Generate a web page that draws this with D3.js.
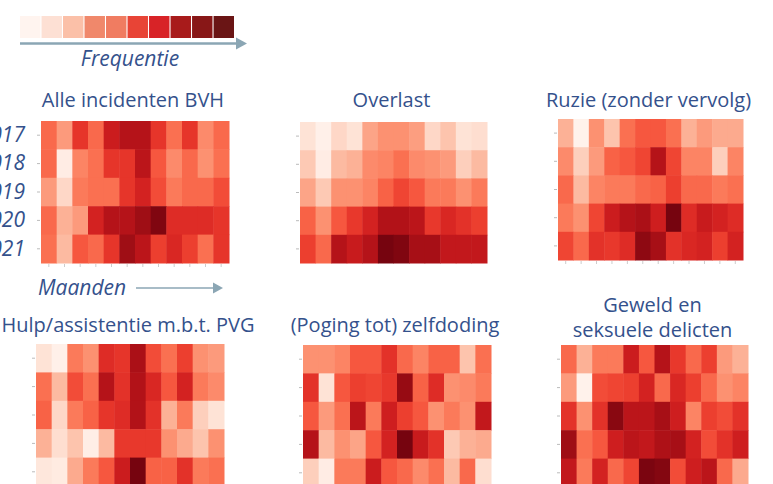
<!DOCTYPE html>
<html>
<head>
<meta charset="utf-8">
<script src="https://cdn.jsdelivr.net/npm/d3@7"></script>
<style>
  body { margin: 0; background: #fff; }
  svg { display: block; }
  text { font-family: "Open Sans", Lato, sans-serif; fill: #34518c; }
</style>
</head>
<body>
<svg id="chart" width="773" height="484"></svg>
<script>
// relative frequentie per maand (0-100), rijen = jaren
var years = ["2017", "2018", "2019", "2020", "2021"];
var months = [1, 2, 3, 4, 5, 6, 7, 8, 9, 10, 11, 12];
var legendColors = ["#fff4ef", "#fde0d4", "#fbc0a8", "#f0886b", "#f07c61",
                    "#e84436", "#d82327", "#a81b1b", "#881717", "#6a1515"];

var bvh = [
  [50, 35, 65, 50, 75, 82, 82, 65, 48, 65, 40, 50],
  [50,  5, 42, 48, 65, 65, 80, 55, 40, 50, 38, 48],
  [35, 15, 45, 48, 48, 65, 72, 58, 45, 50, 50, 58],
  [50, 28, 35, 72, 82, 82, 88, 95, 68, 68, 68, 65],
  [48, 25, 55, 50, 65, 88, 80, 62, 70, 62, 48, 65]
];
var overlast = [
  [10,  3, 15, 10, 32, 38, 38, 34, 15, 22, 10, 12],
  [20,  5, 25, 28, 40, 42, 48, 40, 38, 35, 18, 25],
  [32, 20, 38, 38, 42, 52, 60, 55, 45, 45, 38, 45],
  [52, 38, 55, 64, 72, 83, 83, 80, 64, 70, 66, 62],
  [62, 50, 82, 76, 82, 97, 95, 86, 86, 78, 78, 78]
];
var ruzie = [
  [28,  2, 38, 22, 48, 55, 55, 48, 28, 35, 30, 30],
  [40, 18, 35, 52, 55, 60, 82, 60, 42, 42, 18, 42],
  [50, 25, 42, 45, 45, 50, 52, 62, 50, 50, 45, 48],
  [45, 38, 60, 75, 82, 85, 74, 97, 68, 76, 72, 68],
  [60, 50, 66, 64, 68, 92, 86, 66, 70, 72, 62, 72]
];
var hulp = [
  [10,  3, 45, 38, 68, 65, 85, 58, 48, 62, 38, 35],
  [48, 25, 58, 48, 82, 66, 83, 70, 55, 72, 45, 40],
  [52, 15, 45, 52, 65, 68, 83, 66, 28, 45, 18, 10],
  [28, 12, 22,  4, 25, 64, 64, 64, 38, 30, 22, 38],
  [ 8,  6, 30, 45, 55, 75, 97, 52, 52, 66, 45, 48]
];
var poging = [
  [38, 38, 42, 55, 55, 66, 50, 42, 52, 52, 22, 48],
  [66, 10, 55, 62, 60, 64, 90, 52, 68, 38, 40, 45],
  [55, 35, 48, 80, 45, 74, 62, 55, 38, 45, 38, 78],
  [82, 25, 38, 32, 55, 72, 97, 76, 66, 20, 28, 30],
  [18,  5, 45, 45, 75, 55, 50, 40, 48, 25, 50, 12]
];
var geweld = [
  [50, 28, 45, 45, 75, 55, 82, 64, 50, 62, 35, 28],
  [35,  2, 58, 60, 62, 72, 50, 70, 62, 50, 38, 42],
  [66, 38, 66, 93, 80, 80, 86, 74, 42, 62, 58, 66],
  [88, 48, 55, 74, 80, 78, 84, 86, 72, 58, 66, 74],
  [78, 45, 72, 50, 60, 96, 94, 58, 74, 80, 50, 30]
];

var svg = d3.select("#chart");
var color = d3.scaleSequential(d3.interpolateReds).domain([0, 100]);

/* LEGENDA */
var lx = d3.scaleBand().domain(d3.range(legendColors.length)).range([20, 234]).paddingInner(0.05);
svg.selectAll(".leg").data(legendColors).enter().append("rect")
  .attr("x", function (d, i) { return lx(i); })
  .attr("y", 16).attr("width", lx.bandwidth()).attr("height", 22)
  .attr("fill", function (d) { return d; });

function arrow(x1, x2, y, w, head) {
  svg.append("line").attr("x1", x1).attr("x2", x2 - head).attr("y1", y).attr("y2", y)
    .attr("stroke", "#8ba6b4").attr("stroke-width", w);
  svg.append("path")
    .attr("d", "M" + (x2 - head) + "," + (y - head * 0.55) + "L" + x2 + "," + y + "L" + (x2 - head) + "," + (y + head * 0.55) + "Z")
    .attr("fill", "#8ba6b4");
}
arrow(20, 247, 43.5, 2.5, 11);
svg.append("text").attr("x", 130).attr("y", 66).attr("text-anchor", "middle")
  .style("font-size", "21px").style("font-style", "italic").text("Frequentie");

/* PANELEN */
var panels = [
  { title: ["Alle incidenten BVH"], data: bvh, x: 41, y: 121, w: 188, h: 142, ty: [107], labels: true, xticks: true },
  { title: ["Overlast"], data: overlast, x: 300, y: 122, w: 187, h: 141, ty: [107] },
  { title: ["Ruzie (zonder vervolg)"], data: ruzie, x: 558, y: 119, w: 185, h: 141, ty: [107], xticks: true },
  { title: ["Hulp/assistentie m.b.t. PVG"], data: hulp, x: 36, y: 344, w: 188, h: 142, ty: [332] },
  { title: ["(Poging tot) zelfdoding"], data: poging, x: 303, y: 345, w: 188, h: 142, ty: [332] },
  { title: ["Geweld en", "seksuele delicten"], data: geweld, x: 561, y: 345, w: 187, h: 142, ty: [312, 337] }
];

panels.forEach(function (p) {
  var x = d3.scaleBand().domain(months).range([p.x, p.x + p.w]);
  var y = d3.scaleBand().domain(years).range([p.y, p.y + p.h]);
  var g = svg.append("g");

  var cells = [];
  p.data.forEach(function (row, i) {
    row.forEach(function (v, j) { cells.push({ year: years[i], month: months[j], v: v }); });
  });
  g.selectAll("rect").data(cells).enter().append("rect")
    .attr("x", function (d) { return x(d.month); })
    .attr("y", function (d) { return y(d.year); })
    .attr("width", x.bandwidth() + 0.5)
    .attr("height", y.bandwidth() + 0.5)
    .attr("fill", function (d) { return color(d.v); });

  var ya = g.append("g").attr("transform", "translate(" + (p.x - 1) + ",0)")
    .call(d3.axisLeft(y).tickSize(3).tickPadding(12).tickFormat(p.labels ? null : ""));
  ya.select(".domain").remove();
  ya.selectAll("line").attr("stroke", "#bbb");
  ya.selectAll("text").style("font-size", "21px").style("font-style", "italic")
    .style("font-family", "'Open Sans', sans-serif").attr("fill", "#34518c");

  if (p.xticks) {
    var xa = g.append("g").attr("transform", "translate(0," + (p.y + p.h + 1) + ")")
      .call(d3.axisBottom(x).tickSize(3).tickFormat(""));
    xa.select(".domain").remove();
    xa.selectAll("line").attr("stroke", "#ccc");
  }

  p.title.forEach(function (t, k) {
    svg.append("text").attr("x", p.x + p.w / 2 - 2).attr("y", p.ty[k])
      .attr("text-anchor", "middle").style("font-size", "20px").text(t);
  });
});

svg.append("text").attr("x", 38).attr("y", 295)
  .style("font-size", "21px").style("font-style", "italic").text("Maanden");
arrow(136, 223, 288, 1.5, 10);
</script>
</body>
</html>
